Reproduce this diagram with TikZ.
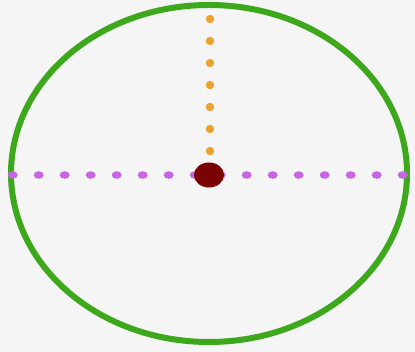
\documentclass[tikz,border=0pt]{standalone}
\usepackage{xcolor}
\usepackage{tikz}
\definecolor{Paper}{HTML}{F5F5F5}
\definecolor{Rim}{HTML}{3DA81C}
\definecolor{Major}{HTML}{C865E3}
\definecolor{Minor}{HTML}{EFA12E}
\definecolor{Focus}{HTML}{7A0404}
\tikzset{
  rim/.style={draw=Rim,line width=6pt},
  majordot/.style={fill=Major},
  minordot/.style={fill=Minor},
  centredot/.style={fill=Focus}
}

\begin{document}
\begin{tikzpicture}[x=1pt,y=1pt]
  \fill[Paper] (0,0) rectangle (415,352);
  \useasboundingbox (0,0) rectangle (415,352);
  \coordinate (centre) at (209,177);
  % outline
  \draw[rim] (209,178.5) ellipse [x radius=198,y radius=168.5];
  % major axis dots
  \foreach \i in {0,...,15}
    \fill[majordot] (12.7+26*\i,177) ellipse [x radius=5,y radius=3.8];
  % minor axis dots
  \foreach \i in {0,...,6}
    \fill[minordot] (210,333-22*\i) circle (4.2);
  \fill[centredot] (centre) ellipse [x radius=15,y radius=12.5];
\end{tikzpicture}
\end{document}
